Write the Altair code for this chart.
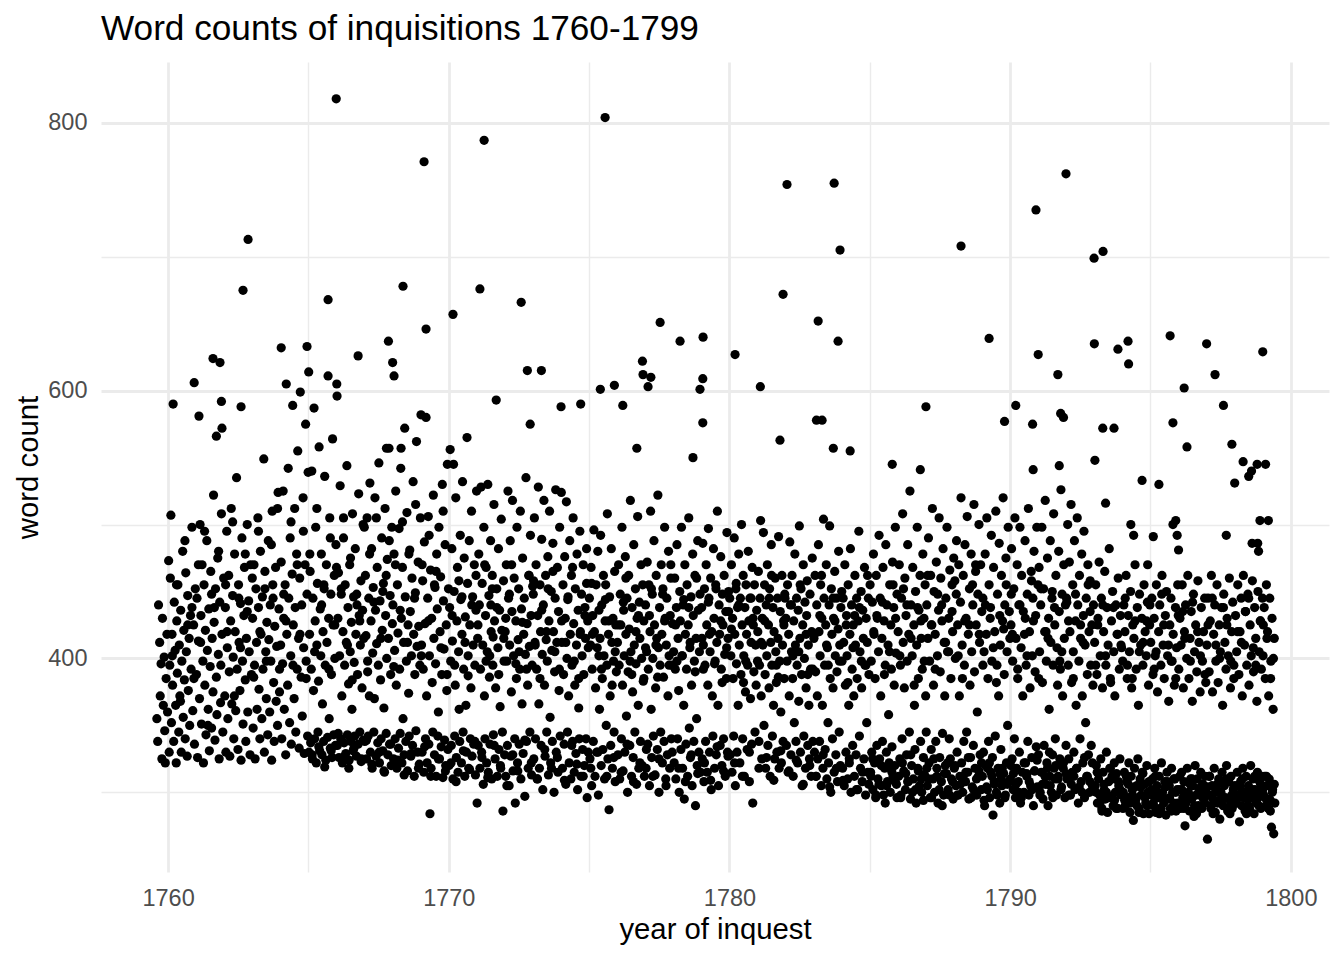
import altair as alt
import pandas as pd

TITLE = "Word counts of inquisitions 1760-1799"
X_TITLE = "year of inquest"
Y_TITLE = "word count"

x_ticks = [1760, 1765, 1770, 1775, 1780, 1785, 1790, 1795, 1800]
y_ticks = [300, 400, 500, 600, 700, 800]

# each year: (hundredths of the year, word count)
p1759 = [(60,355),(63,338),(66,440),(70,412),(72,372),(75,396),(78,325),(80,430),(83,365),(86,401),(88,346),(90,322),(93,385),(96,418),(98,360)]
p1760 = [(2,473),(4,330),(6,395),(8,460),(10,507),(12,352),(14,418),(16,380),(18,590),(20,338),(22,442),(25,406),(27,365),(29,322),(31,428),(33,389),(35,455),(38,345),(40,410),(42,372),(45,436),(47,330),(49,398),(52,480),(54,356),(56,421),(58,384),(61,340),(63,464),(65,405),(68,327),(70,447),(72,376),(75,415),(77,350),(80,432),(82,392),(85,498),(88,361),(91,425),(94,336),(97,452)]
p1761 = [(1,388),(3,445),(5,326),(8,413),(10,581),(12,370),(14,500),(17,432),(19,351),(21,470),(24,398),(26,322),(28,455),(31,380),(33,421),(35,343),(38,488),(40,406),(43,362),(45,437),(47,331),(50,394),(52,465),(55,348),(57,415),(60,375),(62,522),(64,427),(67,339),(69,452),(72,386),(74,358),(77,475),(79,403),(82,325),(84,442),(87,367),(90,508),(92,418),(95,345),(98,460)]
p1762 = [(2,372),(4,438),(6,330),(9,495),(11,408),(13,355),(16,462),(18,390),(20,327),(23,428),(25,512),(27,366),(30,447),(32,401),(34,340),(37,478),(39,420),(41,361),(44,535),(46,392),(49,332),(51,455),(53,412),(56,376),(58,441),(60,324),(63,490),(65,398),(67,351),(70,432),(72,468),(75,384),(77,338),(79,415),(82,500),(84,360),(87,443),(89,405),(92,328),(94,470),(97,388)]
p1763 = [(1,430),(3,348),(6,470),(8,395),(10,325),(13,452),(15,412),(17,362),(20,505),(22,438),(24,377),(27,340),(29,480),(31,418),(34,355),(36,446),(38,392),(41,549),(43,330),(45,465),(48,405),(50,370),(52,427),(55,343),(57,488),(59,414),(62,360),(64,440),(66,398),(69,324),(71,510),(73,455),(76,382),(78,338),(80,424),(83,468),(85,368),(87,409),(90,350),(92,524),(95,437),(97,392)]
p1764 = [(1,410),(3,472),(5,340),(8,396),(10,525),(12,430),(14,362),(17,455),(19,328),(21,605),(23,418),(26,380),(28,542),(30,445),(33,352),(35,490),(37,402),(39,336),(42,463),(44,589),(46,425),(49,370),(51,512),(53,438),(55,345),(58,478),(60,392),(62,555),(65,415),(67,333),(69,460),(71,599),(74,386),(76,440),(78,357),(81,520),(83,408),(85,329),(88,470),(90,575),(92,398),(95,448),(97,342),(99,539)]
p1765 = [(1,614),(2,330),(4,418),(6,465),(8,337),(10,392),(12,540),(14,325),(16,445),(18,376),(20,587),(22,340),(24,428),(26,498),(28,322),(30,410),(32,456),(34,345),(36,383),(38,558),(40,331),(42,437),(44,402),(46,478),(48,328),(50,366),(52,420),(54,338),(56,452),(58,536),(60,395),(62,324),(64,470),(66,412),(68,341),(70,611),(72,430),(74,355),(76,505),(78,333),(80,448),(82,388),(84,326),(86,564),(88,425),(90,343),(92,462),(94,400),(96,335),(98,485)]
p1766 = [(1,605),(2,596),(3,335),(5,430),(7,464),(9,326),(11,402),(13,529),(15,340),(17,448),(19,372),(21,322),(23,420),(25,490),(27,337),(29,395),(31,455),(33,329),(35,412),(37,544),(39,343),(41,438),(43,381),(45,324),(47,470),(49,405),(51,338),(53,427),(55,362),(57,508),(59,331),(61,446),(63,397),(65,342),(67,482),(69,418),(71,327),(73,440),(75,388),(77,336),(79,523),(81,432),(83,345),(85,410),(87,458),(89,325),(91,378),(93,436),(95,339),(97,415),(99,498)]
p1767 = [(1,338),(3,462),(5,417),(7,325),(9,505),(11,390),(13,342),(15,445),(17,372),(19,531),(21,330),(23,428),(25,482),(27,318),(29,404),(31,453),(33,345),(35,370),(37,520),(39,436),(41,327),(43,411),(45,468),(47,337),(49,395),(51,546),(53,322),(55,443),(57,384),(59,340),(61,490),(63,421),(65,331),(67,456),(69,363),(71,315),(73,512),(75,432),(77,344),(79,400),(81,474),(83,328),(85,415),(87,557),(89,336),(91,447),(93,388),(95,320),(97,498),(99,426)]
p1768 = [(1,440),(3,325),(5,478),(7,406),(9,340),(11,525),(13,380),(15,318),(17,455),(19,419),(21,333),(23,497),(25,392),(27,344),(29,542),(31,430),(33,322),(35,468),(37,355),(39,412),(41,328),(43,572),(45,446),(47,338),(49,398),(51,509),(53,316),(55,425),(57,374),(59,342),(61,481),(63,435),(65,327),(67,402),(69,460),(71,335),(73,532),(75,418),(77,312),(79,388),(81,449),(83,346),(85,562),(87,409),(89,330),(91,472),(93,424),(95,321),(97,395),(99,505)]
p1769 = [(1,582),(3,410),(5,330),(7,458),(9,392),(11,315),(13,487),(15,426),(17,340),(19,580),(21,372),(23,322),(25,445),(27,506),(29,336),(31,402),(33,284),(35,466),(37,318),(39,430),(41,382),(43,345),(45,522),(47,415),(49,328),(51,453),(53,396),(55,312),(57,478),(59,437),(61,342),(63,360),(65,498),(67,325),(69,420),(71,461),(73,334),(75,388),(77,530),(79,311),(81,443),(83,407),(85,339),(87,485),(89,320),(91,425),(93,376),(95,545),(97,332),(99,452)]
p1770 = [(1,320),(3,438),(5,556),(7,398),(9,335),(11,482),(13,413),(15,310),(17,545),(19,450),(21,342),(23,380),(25,520),(27,326),(29,428),(31,468),(33,315),(35,405),(37,362),(39,338),(41,492),(43,444),(45,322),(47,418),(49,532),(51,345),(53,392),(55,475),(57,312),(59,431),(61,365),(63,330),(65,565),(67,456),(69,402),(71,318),(73,488),(75,425),(77,340),(79,378),(81,510),(83,327),(85,446),(87,410),(89,336),(91,470),(93,395),(95,313),(97,436),(99,525)]
p1771 = [(1,292),(3,415),(5,335),(7,478),(9,440),(11,318),(13,392),(15,528),(17,330),(19,456),(21,410),(23,306),(25,498),(27,372),(29,340),(31,432),(33,468),(35,322),(37,405),(39,530),(41,315),(43,447),(45,386),(47,336),(49,488),(51,420),(53,310),(55,462),(57,395),(59,343),(61,515),(63,428),(65,325),(67,378),(69,593),(71,452),(73,312),(75,408),(77,482),(79,332),(81,436),(83,364),(85,318),(87,504),(89,421),(91,345),(93,286),(95,458),(97,398),(99,328),(50,440),(58,416)]
p1772 = [(1,420),(3,312),(5,470),(7,398),(9,335),(11,525),(13,445),(15,305),(17,410),(19,488),(21,327),(23,375),(25,435),(27,518),(29,316),(31,402),(33,460),(35,340),(37,292),(39,428),(41,385),(43,498),(45,322),(47,414),(49,452),(51,336),(53,392),(55,510),(57,310),(59,437),(61,366),(63,475),(65,329),(67,418),(69,445),(71,297),(73,403),(75,535),(77,338),(79,426),(81,380),(83,318),(85,462),(87,409),(89,345),(91,492),(93,432),(95,313),(97,395),(99,454)]
p1773 = [(1,448),(3,325),(5,505),(7,412),(9,340),(11,470),(13,392),(15,310),(17,432),(19,528),(21,366),(23,318),(25,455),(27,420),(29,335),(31,489),(33,403),(35,302),(37,440),(39,518),(41,380),(43,327),(45,462),(47,414),(49,345),(51,398),(53,476),(55,313),(57,428),(59,510),(61,356),(63,322),(65,450),(67,406),(69,338),(71,486),(73,420),(75,300),(77,390),(79,445),(81,526),(83,330),(85,412),(87,468),(89,315),(91,435),(93,376),(95,498),(97,342)]
p1774 = [(1,524),(3,412),(5,318),(7,455),(9,388),(11,336),(13,476),(15,430),(17,306),(19,517),(21,400),(23,345),(25,446),(27,372),(29,322),(31,488),(33,418),(35,310),(37,462),(39,395),(41,338),(43,505),(45,426),(47,315),(49,380),(51,452),(53,329),(55,410),(57,478),(59,302),(61,436),(63,363),(65,340),(67,495),(69,420),(71,312),(73,448),(75,402),(77,332),(79,470),(81,388),(83,320),(85,438),(87,415),(89,340),(91,482),(93,296),(95,428),(97,408)]
p1775 = [(1,445),(3,325),(5,410),(7,468),(9,305),(11,392),(13,432),(15,338),(17,496),(19,420),(21,312),(23,378),(25,455),(27,330),(29,408),(31,480),(33,298),(35,436),(37,362),(39,415),(41,492),(43,320),(45,440),(47,385),(49,332),(51,462),(53,402),(55,310),(57,428),(59,455),(61,350),(63,395),(65,508),(67,325),(69,418),(71,287),(73,446),(75,372),(77,335),(79,482),(81,412),(83,318),(85,430),(87,398),(89,345),(91,465),(93,308),(95,425),(97,390)]
p1776 = [(1,412),(3,328),(5,470),(7,395),(9,310),(11,448),(13,425),(15,340),(17,498),(19,380),(21,316),(23,436),(25,402),(27,330),(29,476),(31,418),(33,357),(35,445),(37,300),(39,390),(41,462),(43,422),(45,335),(47,518),(49,405),(51,312),(53,438),(55,375),(57,326),(59,485),(61,410),(63,345),(65,452),(67,396),(69,306),(71,430),(73,506),(75,365),(77,318),(79,442),(81,415),(83,338),(85,470),(87,400),(89,320),(91,455),(93,383),(95,428),(97,312)]
p1777 = [(1,440),(3,318),(5,405),(7,472),(9,336),(11,392),(13,455),(15,305),(17,420),(19,510),(21,362),(23,326),(25,448),(27,400),(29,342),(31,488),(33,425),(35,313),(37,378),(39,462),(41,415),(43,332),(45,522),(47,408),(49,300),(51,438),(53,395),(55,345),(57,470),(59,418),(61,322),(63,452),(65,386),(67,338),(69,498),(71,430),(73,310),(75,410),(77,445),(79,328),(81,372),(83,480),(85,402),(87,318),(89,432),(91,460),(93,340),(95,395),(97,426)]
p1778 = [(1,405),(3,322),(5,460),(7,392),(9,310),(11,438),(13,485),(15,340),(17,415),(19,376),(21,300),(23,450),(25,428),(27,332),(29,498),(31,402),(33,318),(35,440),(37,365),(39,295),(41,470),(43,418),(45,336),(47,392),(49,455),(51,312),(53,425),(55,505),(57,348),(59,408),(61,326),(63,446),(65,380),(67,305),(69,478),(71,432),(73,338),(75,398),(77,462),(79,290),(81,415),(83,355),(85,320),(87,488),(89,436),(91,330),(93,405),(95,448),(97,315)]
p1779 = [(1,438),(3,325),(5,486),(7,410),(9,308),(11,452),(13,395),(15,338),(17,470),(19,425),(21,315),(23,380),(25,497),(27,445),(29,330),(31,405),(33,460),(35,302),(37,420),(39,372),(41,342),(43,482),(45,430),(47,318),(49,398),(51,455),(53,328),(55,412),(57,510),(59,365),(61,305),(63,440),(65,418),(67,335),(69,476),(71,392),(73,320),(75,448),(77,425),(79,340),(81,462),(83,403),(85,312),(87,435),(89,385),(91,494),(93,330),(95,415),(97,450)]
p1780 = [(1,445),(3,328),(5,402),(7,470),(9,315),(11,430),(13,385),(15,342),(17,490),(19,418),(21,305),(23,452),(25,396),(27,330),(29,438),(31,365),(33,478),(35,410),(37,322),(39,445),(41,388),(43,500),(45,425),(47,340),(49,462),(51,402),(53,312),(55,438),(57,375),(59,455),(61,418),(63,332),(65,395),(67,480),(69,428),(71,308),(73,445),(75,370),(77,412),(79,336),(81,468),(83,292),(85,425),(87,390),(89,455),(91,345),(93,410),(95,380),(97,436)]
p1781 = [(1,420),(3,465),(5,338),(7,395),(9,445),(11,503),(13,372),(15,325),(17,430),(19,410),(21,494),(23,350),(25,455),(27,388),(29,318),(31,440),(33,402),(35,470),(37,335),(39,425),(41,378),(43,452),(45,312),(47,412),(49,485),(51,395),(53,342),(55,438),(57,365),(59,420),(61,325),(63,460),(65,405),(67,382),(69,330),(71,445),(73,415),(75,491),(77,318),(79,398),(81,435),(83,360),(85,322),(87,462),(89,410),(91,338),(93,428),(95,385),(97,448)]
p1782 = [(1,430),(3,335),(5,398),(7,455),(9,315),(11,418),(13,372),(15,487),(17,440),(19,328),(21,405),(23,462),(25,385),(27,312),(29,428),(31,352),(33,478),(35,410),(37,338),(39,445),(41,395),(43,322),(45,436),(47,368),(49,499),(51,415),(53,330),(55,452),(57,388),(59,305),(61,425),(63,470),(65,342),(67,400),(69,442),(71,318),(73,378),(75,432),(77,458),(79,335),(81,410),(83,365),(85,325),(87,448),(89,392),(91,312),(93,420),(95,475),(97,338)]
p1783 = [(1,415),(3,330),(5,462),(7,390),(9,312),(11,440),(13,372),(15,325),(17,485),(19,420),(21,338),(23,402),(25,455),(27,305),(29,430),(31,365),(33,318),(35,504),(37,445),(39,395),(41,332),(43,425),(45,470),(47,310),(49,408),(51,352),(53,322),(55,440),(57,499),(59,385),(61,300),(63,452),(65,418),(67,340),(69,378),(71,430),(73,315),(75,465),(77,402),(79,328),(81,445),(83,390),(85,308),(87,422),(89,480),(91,345),(93,410),(95,320),(97,438)]
p1784 = [(1,398),(3,318),(5,445),(7,412),(9,305),(11,470),(13,380),(15,330),(17,432),(19,402),(21,310),(23,455),(25,365),(27,322),(29,418),(31,482),(33,300),(35,440),(37,392),(39,335),(41,425),(43,372),(45,312),(47,462),(49,410),(51,328),(53,445),(55,385),(57,302),(59,428),(61,495),(63,342),(65,405),(67,318),(69,450),(71,378),(73,308),(75,436),(77,415),(79,325),(81,468),(83,395),(85,298),(87,430),(89,352),(91,412),(93,315),(95,445),(97,388)]
p1785 = [(1,455),(3,315),(5,398),(7,330),(9,442),(11,302),(13,478),(15,418),(17,322),(19,385),(21,296),(23,462),(25,335),(27,430),(29,310),(31,405),(33,492),(35,325),(37,445),(39,372),(41,305),(43,415),(45,338),(47,468),(49,298),(51,428),(53,318),(55,395),(57,485),(59,330),(61,440),(63,308),(65,410),(67,358),(69,322),(71,455),(73,300),(75,425),(77,392),(79,334),(81,472),(83,312),(85,438),(87,380),(89,320),(91,498),(93,404),(95,306),(97,448)]
p1786 = [(1,420),(3,312),(5,470),(7,325),(9,395),(11,298),(13,445),(15,340),(17,508),(19,412),(21,316),(23,378),(25,460),(27,302),(29,432),(31,328),(33,398),(35,485),(37,308),(39,418),(41,345),(43,525),(45,295),(47,440),(49,320),(51,402),(53,468),(55,310),(57,425),(59,365),(61,332),(63,450),(65,292),(67,410),(69,498),(71,318),(73,385),(75,436),(77,305),(79,462),(81,338),(83,415),(85,300),(87,392),(89,478),(91,326),(93,430),(95,313),(97,455),(99,372)]
p1787 = [(1,345),(3,440),(5,305),(7,415),(9,490),(11,322),(13,398),(15,296),(17,462),(19,332),(21,425),(23,512),(25,310),(27,380),(29,450),(31,300),(33,418),(35,338),(37,472),(39,318),(41,402),(43,292),(45,436),(47,505),(49,326),(51,390),(53,460),(55,308),(57,428),(59,344),(61,482),(63,298),(65,412),(67,372),(69,320),(71,445),(73,314),(75,498),(77,405),(79,302),(81,430),(83,340),(85,466),(87,325),(89,385),(91,310),(93,455),(95,420),(97,295),(99,475)]
p1788 = [(1,318),(3,458),(5,400),(7,305),(9,488),(11,330),(13,425),(15,298),(17,470),(19,372),(21,312),(23,442),(25,520),(27,322),(29,410),(31,300),(33,462),(35,338),(37,395),(39,485),(41,308),(43,430),(45,345),(47,506),(49,315),(51,418),(53,295),(55,452),(57,380),(59,326),(61,478),(63,405),(65,304),(67,440),(69,335),(71,515),(73,390),(75,318),(77,465),(79,425),(81,298),(83,360),(85,448),(87,312),(89,500),(91,412),(93,328),(95,470),(97,302),(99,435)]
p1789 = [(1,312),(3,445),(5,330),(7,405),(9,290),(11,478),(13,320),(15,418),(17,505),(19,302),(21,385),(23,338),(25,455),(27,296),(29,430),(31,315),(33,492),(35,398),(37,326),(39,283),(41,468),(43,308),(45,420),(47,342),(49,510),(51,300),(53,395),(55,448),(57,318),(59,372),(61,486),(63,292),(65,410),(67,332),(69,462),(71,305),(73,428),(75,520),(77,314),(79,388),(81,440),(83,298),(85,475),(87,322),(89,405),(91,350),(93,498),(95,308),(97,435),(99,415),(20,318),(68,310)]
p1790 = [(1,310),(3,425),(5,482),(7,325),(9,398),(11,302),(13,452),(15,340),(17,505),(19,296),(21,415),(23,318),(25,470),(27,385),(29,308),(31,440),(33,330),(35,498),(37,292),(39,408),(41,462),(43,315),(45,372),(47,435),(49,300),(51,418),(53,488),(55,322),(57,395),(59,312),(61,448),(63,338),(65,512),(67,298),(69,420),(71,378),(73,305),(75,465),(77,326),(79,402),(81,445),(83,290),(85,480),(87,316),(89,390),(91,432),(93,334),(95,498),(97,304),(99,455)]
p1791 = [(1,328),(3,468),(5,405),(7,300),(9,440),(11,315),(13,498),(15,382),(17,295),(19,452),(21,335),(23,420),(25,518),(27,306),(29,398),(31,322),(33,475),(35,290),(37,430),(39,362),(41,312),(43,488),(45,412),(47,300),(49,445),(51,328),(53,395),(55,508),(57,318),(59,425),(61,340),(63,462),(65,298),(67,408),(69,380),(71,312),(73,480),(75,435),(77,325),(79,392),(81,526),(83,304),(85,448),(87,372),(89,318),(91,470),(93,415),(95,296),(97,440),(99,335),(40,330),(60,310)]
p1792 = [(1,445),(3,310),(5,500),(7,395),(9,325),(11,472),(13,420),(15,298),(17,515),(19,382),(21,315),(23,455),(25,405),(27,330),(29,488),(31,302),(33,428),(35,365),(37,318),(39,505),(41,440),(43,292),(45,398),(47,462),(49,340),(51,415),(53,308),(55,478),(57,372),(59,322),(61,432),(63,495),(65,296),(67,410),(69,352),(71,445),(73,312),(75,388),(77,470),(79,328),(81,420),(83,300),(85,458),(87,395),(89,335),(91,425),(93,305),(95,380),(97,440)]
p1793 = [(1,412),(3,305),(5,455),(7,320),(9,388),(11,292),(13,430),(15,310),(17,472),(19,298),(21,402),(23,325),(25,445),(27,288),(29,378),(31,315),(33,420),(35,302),(37,465),(39,295),(41,395),(43,330),(45,438),(47,285),(49,410),(51,308),(53,482),(55,318),(57,385),(59,296),(61,428),(63,312),(65,450),(67,290),(69,405),(71,322),(73,372),(75,300),(77,440),(79,314),(81,418),(83,288),(85,460),(87,305),(89,392),(91,325),(93,432),(95,298),(97,408)]
p1794 = [(1,398),(3,300),(5,440),(7,315),(9,420),(11,290),(13,462),(15,308),(17,385),(19,296),(21,432),(23,322),(25,405),(27,285),(29,450),(31,312),(33,378),(35,302),(37,425),(39,279),(41,415),(43,318),(45,470),(47,294),(49,392),(51,305),(53,438),(55,325),(57,365),(59,288),(61,448),(63,310),(65,410),(67,298),(69,430),(71,315),(73,395),(75,284),(77,455),(79,306),(81,420),(83,292),(85,402),(87,320),(89,442),(91,300),(93,380),(95,284),(97,425)]
p1795 = [(1,412),(3,298),(5,445),(7,310),(9,388),(11,290),(13,430),(15,318),(17,402),(19,285),(21,455),(23,305),(25,375),(27,296),(29,420),(31,312),(33,440),(35,288),(37,395),(39,322),(41,462),(43,300),(45,410),(47,292),(49,385),(51,308),(53,432),(55,283),(57,450),(59,315),(61,402),(63,295),(65,368),(67,305),(69,425),(71,288),(73,445),(75,318),(77,398),(79,300),(81,418),(83,292),(85,380),(87,310),(89,438),(91,286),(93,408),(95,302),(97,455)]
p1796 = [(1,392),(3,302),(5,430),(7,288),(9,410),(11,315),(13,455),(15,296),(17,378),(19,308),(21,420),(23,275),(25,440),(27,292),(29,400),(31,318),(33,462),(35,300),(37,385),(39,286),(41,415),(43,310),(45,435),(47,295),(49,368),(51,305),(53,448),(55,282),(57,405),(59,320),(61,425),(63,298),(65,390),(67,310),(69,458),(71,290),(73,412),(75,302),(77,375),(79,315),(81,438),(83,288),(85,398),(87,306),(89,420),(91,295),(93,445),(95,312),(97,382),(99,300)]
p1797 = [(1,410),(3,265),(5,445),(7,298),(9,390),(11,312),(13,428),(15,288),(17,462),(19,305),(21,375),(23,295),(25,418),(27,318),(29,440),(31,285),(33,398),(35,302),(37,455),(39,292),(41,382),(43,310),(45,425),(47,280),(49,405),(51,300),(53,438),(55,315),(57,365),(59,290),(61,448),(63,305),(65,412),(67,296),(69,392),(71,320),(73,430),(75,286),(77,402),(79,308),(81,460),(83,294),(85,378),(87,312),(89,420),(91,288),(93,442),(95,302),(97,395),(99,298)]
p1798 = [(1,305),(3,432),(5,292),(7,405),(9,315),(11,455),(13,298),(15,388),(17,278),(19,420),(21,308),(23,445),(25,290),(27,372),(29,318),(31,462),(33,300),(35,410),(37,286),(39,435),(41,312),(43,395),(45,295),(47,448),(49,305),(51,380),(53,288),(55,425),(57,320),(59,402),(61,296),(63,458),(65,310),(67,390),(69,284),(71,438),(73,302),(75,415),(77,292),(79,368),(81,315),(83,450),(85,298),(87,405),(89,308),(91,428),(93,288),(95,392),(97,312),(99,445)]
p1799 = [(1,402),(3,298),(5,438),(7,312),(9,385),(11,290),(13,455),(15,305),(17,420),(19,295),(21,372),(23,310),(25,445),(27,286),(29,398),(31,274),(33,430),(35,302),(37,362),(39,269),(41,415),(43,292)]

# isolated long inquisitions: (year, word count)
outliers = [(1760.93,606),(1761.60,624),(1761.85,621),(1761.90,592),(1761.72,566),(1761.92,572),
            (1762.60,588),(1762.67,675),(1762.85,713),(1764.03,632),(1764.95,633),(1765.70,668),
            (1765.99,818),(1766.77,626),(1767.85,637),(1768.00,621),(1768.05,611),(1768.37,678),
            (1767.78,557),(1768.30,557),(1769.12,771),(1769.19,646),(1770.15,657),(1771.11,676),
            (1771.26,787),(1772.58,666),(1772.80,615),(1772.90,575),(1773.30,615),(1774.00,588),
            (1774.70,590),(1775.40,601),(1775.57,804),(1775.90,604),(1776.20,589),(1776.70,557),
            (1776.90,622),(1776.92,612),(1777.20,610),(1777.10,603),(1777.53,651),(1778.24,637),
            (1778.70,550),(1779.06,640),(1779.05,609),(1778.95,601),(1779.05,576),(1780.20,627),
            (1781.10,603),(1781.80,563),(1781.91,672),(1782.05,754),(1783.16,652),(1783.10,578),
            (1783.30,578),(1783.70,557),(1783.73,755),(1783.87,637),(1783.94,705),(1784.30,555),
            (1785.80,545),(1786.80,541),(1787.00,588),(1788.25,708),(1789.25,639),(1789.80,577),
            (1790.20,589),(1790.80,575),(1790.92,735),(1791.00,627),(1790.82,541),(1791.70,612),
            (1791.80,583),(1791.90,580),(1791.99,762),(1791.75,544),(1792.99,699),(1793.31,704),
            (1793.00,635),(1793.02,548),(1793.30,572),(1793.70,572),(1793.84,631),(1794.20,637),
            (1794.22,620),(1794.70,533),(1795.30,530),(1795.70,641),(1795.80,576),(1796.20,602),
            (1796.30,558),(1797.00,635),(1797.30,612),(1797.60,589),(1797.90,560),(1798.00,531),
            (1798.30,547),(1798.60,540),(1798.80,545),(1798.50,536),(1799.00,629),(1799.10,545),
            (1799.20,503),(1793.40,516),(1794.30,500),(1794.40,492),(1795.10,491),(1795.80,500),
            (1795.90,503),(1795.95,492),(1796.00,481),(1797.70,492),(1798.62,486),(1798.82,486),
            (1798.90,503),(1798.85,480),(1794.90,470)]

# denser clusters: (year, word count)
extra_1760s = [(1760.15,402),(1760.44,368),(1760.70,425),(1760.92,385),(1761.16,412),(1761.42,350),(1761.65,438),
               (1761.88,395),(1762.10,420),(1762.36,372),(1762.58,408),(1762.82,435),(1763.05,386),(1763.27,420),
               (1763.50,398),(1763.74,445),(1763.97,375),(1764.20,428),(1764.45,395),(1764.70,418),(1764.92,385),
               (1765.13,328),(1765.37,334),(1765.58,319),(1765.81,331),(1766.06,344),(1766.29,327),(1766.44,318),
               (1766.62,333),(1766.88,323),(1767.07,339),(1767.26,321),(1767.52,330),(1767.69,316),(1767.93,336),
               (1768.18,324),(1768.41,313),(1768.66,329),(1768.92,318),(1769.14,334),(1769.36,312),(1769.63,325),
               (1769.88,316),(1765.22,405),(1765.47,440),(1765.73,392),(1765.94,425),(1766.17,452),(1766.39,410),
               (1766.56,384),(1766.83,428),(1767.11,398),(1767.33,442),(1767.58,415),(1767.77,462),(1768.04,394),
               (1768.27,436),(1768.53,412),(1768.78,445),(1769.02,402),(1769.27,428),(1769.49,455),(1769.72,408),
               (1769.94,388),(1760.30,455),(1760.60,488),(1760.85,438),(1761.08,470),(1761.30,495),(1761.55,448),
               (1761.80,480),(1762.05,455),(1762.30,502),(1762.52,445),(1762.75,478),(1763.00,460),(1763.22,495),
               (1763.45,452),(1763.68,485),(1763.90,512),(1764.12,448),(1764.38,502),(1764.60,470),(1764.82,495),
               (1765.05,478),(1765.30,512),(1765.55,455),(1765.78,490),(1766.00,468),(1766.25,505),(1766.50,475),
               (1766.72,448),(1766.95,500),(1767.18,478),(1767.42,505),(1767.65,450),(1767.88,488),(1768.10,470),
               (1768.35,502),(1768.58,478),(1768.82,515),(1769.05,470),(1769.30,492),(1769.55,465),(1769.80,510)]
extra_1770s = [(1770.08,322),(1770.26,308),(1770.52,331),(1770.74,317),(1770.93,338),(1771.18,326),(1771.39,311),
               (1771.62,335),(1771.84,320),(1772.07,305),(1772.28,328),(1772.46,316),(1772.71,339),(1772.94,322),
               (1773.16,310),(1773.42,332),(1773.66,318),(1773.87,326),(1774.12,309),(1774.38,335),(1774.56,321),
               (1774.79,312),(1774.97,330),(1770.12,432),(1770.36,458),(1770.58,412),(1770.82,440),(1771.04,425),
               (1771.28,470),(1771.46,402),(1771.71,438),(1771.96,415),(1772.16,448),(1772.39,396),(1772.62,427),
               (1772.86,462),(1773.08,410),(1773.31,436),(1773.54,452),(1773.78,405),(1774.02,428),(1774.24,444),
               (1774.47,398),(1774.68,418),(1774.91,456),(1775.06,318),(1775.31,330),(1775.63,312),(1775.88,326),
               (1776.14,315),(1776.35,336),(1776.58,308),(1776.81,322),(1777.04,332),(1777.27,312),(1777.49,325),
               (1777.74,305),(1777.96,330),(1778.19,318),(1778.43,308),(1778.64,328),(1778.87,314),(1779.11,322),
               (1779.33,309),(1779.56,334),(1779.79,316),(1779.95,327),(1775.12,418),(1775.44,392),(1775.70,428),
               (1775.93,405),(1776.22,442),(1776.46,398),(1776.67,420),(1776.95,385),(1777.15,432),(1777.38,410),
               (1777.62,448),(1777.85,395),(1778.08,425),(1778.32,402),(1778.55,438),(1778.78,390),(1779.02,415),
               (1779.25,442),(1779.47,396),(1779.69,428),(1779.90,408),
               (1770.21,395),(1770.47,446),(1770.69,387),(1770.97,462),(1771.33,398),(1771.55,452),(1771.78,388),
               (1772.03,430),(1772.24,470),(1772.51,405),(1772.77,392),(1773.02,458),(1773.25,385),(1773.48,420),
               (1773.71,465),(1773.94,392),(1774.17,412),(1774.41,468),(1774.63,385),(1774.85,432),(1775.09,456),
               (1775.35,402),(1775.58,444),(1775.82,380),(1776.05,425),(1776.31,460),(1776.52,388),(1776.76,432),
               (1777.01,408),(1777.22,452),(1777.44,386),(1777.69,428),(1777.91,470),(1778.13,398),(1778.37,444),
               (1778.60,412),(1778.83,460),(1779.07,392),(1779.29,418),(1779.52,452),(1779.74,382),(1779.97,435)]
extra_1780s = [(1780.18,322),(1780.46,312),(1780.71,330),(1781.05,318),(1781.32,326),(1781.58,309),(1781.83,331),
               (1782.12,316),(1782.38,324),(1782.63,306),(1782.86,320),(1783.08,312),(1783.34,328),(1783.57,304),
               (1783.81,318),(1784.05,309),(1784.27,325),(1784.52,302),(1784.74,315),(1784.96,306),(1780.07,422),
               (1780.33,440),(1780.58,398),(1780.84,430),(1781.13,412),(1781.42,445),(1781.67,395),(1781.94,425),
               (1782.21,440),(1782.47,405),(1782.73,418),(1782.97,392),(1783.22,432),(1783.46,410),(1783.69,445),
               (1783.92,398),(1784.16,425),(1784.40,408),(1784.63,438),(1784.86,395),(1785.04,312),(1785.22,298),
               (1785.41,320),(1785.60,305),(1785.79,315),(1785.97,296),(1786.16,322),(1786.35,308),(1786.52,300),
               (1786.73,316),(1786.91,294),(1787.10,310),(1787.28,325),(1787.47,302),(1787.66,314),(1787.84,298),
               (1788.04,320),(1788.23,306),(1788.42,315),(1788.61,296),(1788.80,310),(1788.98,322),(1789.16,304),
               (1789.35,312),(1789.54,298),(1789.72,318),(1789.90,306),(1785.14,420),(1785.45,442),(1785.70,405),
               (1785.92,430),(1786.20,452),(1786.47,415),(1786.70,438),(1786.94,398),(1787.19,425),(1787.42,448),
               (1787.70,412),(1787.93,435),(1788.15,402),(1788.38,428),(1788.66,455),(1788.90,418),(1789.12,440),
               (1789.40,408),(1789.63,432),(1789.86,455),
               (1780.24,456),(1780.50,382),(1780.77,445),(1781.00,398),(1781.26,428),(1781.50,462),(1781.74,386),
               (1781.98,445),(1782.26,402),(1782.52,455),(1782.79,388),(1783.03,418),(1783.28,462),(1783.52,395),
               (1783.76,428),(1784.00,450),(1784.22,382),(1784.46,432),(1784.70,398),(1784.92,462),
               (1785.10,325),(1785.33,306),(1785.55,292),(1785.74,318),(1785.90,308),(1786.10,296),(1786.28,314),
               (1786.46,328),(1786.63,302),(1786.83,310),(1787.03,318),(1787.20,296),(1787.39,312),(1787.58,290),
               (1787.77,322),(1787.95,308),(1788.12,298),(1788.32,312),(1788.51,326),(1788.70,302),(1788.89,316),
               (1789.07,294),(1789.26,322),(1789.44,306),(1789.63,314),(1789.81,296),
               (1785.25,432),(1785.52,388),(1785.83,455),(1786.07,402),(1786.32,440),(1786.58,380),(1786.82,428),
               (1787.06,462),(1787.33,392),(1787.56,440),(1787.81,405),(1788.08,448),(1788.30,385),(1788.55,425),
               (1788.77,470),(1789.03,395),(1789.30,438),(1789.51,382),(1789.77,422)]
extra_1790s = [(1790.12,314),(1790.31,300),(1790.50,322),(1790.68,308),(1790.87,316),(1791.06,298),(1791.24,312),
               (1791.43,305),(1791.62,320),(1791.81,302),(1791.99,314),(1792.18,306),(1792.37,318),(1792.56,300),
               (1792.75,312),(1792.93,322),(1790.08,418),(1790.35,440),(1790.60,402),(1790.83,428),(1791.10,452),
               (1791.35,415),(1791.58,438),(1791.84,405),(1792.08,428),(1792.33,448),(1792.60,412),(1792.85,435),
               (1793.06,300),(1793.20,292),(1793.34,306),(1793.50,296),(1793.63,310),(1793.78,288),(1793.92,302),
               (1794.08,294),(1794.21,306),(1794.36,298),(1794.52,290),(1794.66,304),(1794.80,296),(1794.95,308),
               (1795.10,292),(1795.24,300),(1795.38,288),(1795.53,304),(1795.68,296),(1795.83,310),(1795.97,292),
               (1796.12,302),(1796.26,294),(1796.41,306),(1796.57,290),(1796.72,300),(1796.86,296),(1797.02,304),
               (1797.16,290),(1797.31,300),(1797.46,294),(1797.62,306),(1797.76,288),(1797.90,298),(1798.05,292),
               (1798.20,304),(1798.34,296),(1798.50,290),(1798.64,302),(1798.78,294),(1798.93,306),(1799.07,296),
               (1799.20,288),(1799.34,300),(1793.12,425),(1793.40,402),(1793.68,438),(1793.95,410),(1794.18,395),
               (1794.45,428),(1794.74,412),(1794.98,440),(1795.20,405),(1795.47,425),(1795.74,398),(1795.99,432),
               (1796.22,415),(1796.50,442),(1796.78,402),(1797.05,425),(1797.33,410),(1797.60,438),(1797.86,398),
               (1798.10,420),(1798.38,435),(1798.66,408),(1798.92,428),(1799.15,415),(1799.38,400),
               (1790.02,320),(1790.21,306),(1790.40,296),(1790.59,314),(1790.78,302),(1790.96,324),(1791.15,306),
               (1791.33,318),(1791.52,296),(1791.71,310),(1791.90,322),(1792.09,298),(1792.27,312),(1792.46,304),
               (1792.65,326),(1792.84,308),(1793.10,315),(1793.27,286),(1793.43,300),(1793.57,318),(1793.72,294),
               (1793.86,308),(1794.02,288),(1794.14,312),(1794.29,292),(1794.44,304),(1794.59,285),(1794.73,314),
               (1794.88,290),(1795.03,302),(1795.17,312),(1795.31,284),(1795.46,296),(1795.60,308),(1795.75,286),
               (1795.90,300),(1796.04,312),(1796.19,288),(1796.33,298),(1796.48,310),(1796.64,284),(1796.79,304),
               (1796.93,292),(1797.09,312),(1797.23,284),(1797.38,306),(1797.53,296),(1797.69,310),(1797.83,284),
               (1797.97,304),(1798.12,296),(1798.27,310),(1798.42,284),(1798.57,300),(1798.71,312),(1798.86,290),
               (1799.00,302),(1799.13,312),(1799.27,294),(1799.41,306),
               (1790.04,448),(1790.27,392),(1790.54,430),(1790.76,458),(1791.02,385),(1791.28,420),(1791.50,450),
               (1791.77,398),(1792.02,442),(1792.25,385),(1792.51,425),(1792.78,455),(1793.05,395),(1793.30,440),
               (1793.58,382),(1793.83,418),(1794.10,445),(1794.35,385),(1794.60,405),(1794.86,428),(1795.13,392),
               (1795.40,448),(1795.64,410),(1795.90,385),(1796.15,435),(1796.42,398),(1796.68,420),(1796.94,388),
               (1797.20,445),(1797.46,400),(1797.72,425),(1797.97,385),(1798.24,412),(1798.50,445),(1798.75,395),
               (1799.02,425),(1799.28,385)]

yearly = [(1759, p1759), (1760, p1760), (1761, p1761), (1762, p1762), (1763, p1763),
          (1764, p1764), (1765, p1765), (1766, p1766), (1767, p1767), (1768, p1768),
          (1769, p1769), (1770, p1770), (1771, p1771), (1772, p1772), (1773, p1773),
          (1774, p1774), (1775, p1775), (1776, p1776), (1777, p1777), (1778, p1778),
          (1779, p1779), (1780, p1780), (1781, p1781), (1782, p1782), (1783, p1783),
          (1784, p1784), (1785, p1785), (1786, p1786), (1787, p1787), (1788, p1788),
          (1789, p1789), (1790, p1790), (1791, p1791), (1792, p1792), (1793, p1793),
          (1794, p1794), (1795, p1795), (1796, p1796), (1797, p1797), (1798, p1798),
          (1799, p1799)]

rows = []
for yr, pts in yearly:
    for f, w in pts:
        rows.append({"year": yr + f / 100.0, "words": w})
for lst in (outliers, extra_1760s, extra_1770s, extra_1780s, extra_1790s):
    for yv, w in lst:
        rows.append({"year": yv, "words": w})
df = pd.DataFrame(rows)

FONT = "Liberation Sans"
GRID = "#EBEBEB"

x_axis = alt.Axis(
    values=x_ticks,
    labelExpr="datum.value % 10 === 0 ? datum.label : ''",
    format="d",
    domain=False, ticks=False,
    grid=True, gridColor=GRID,
    gridWidth={"condition": {"test": "datum.value % 10 === 0", "value": 2.8}, "value": 1.4},
    labelFont=FONT, labelFontSize=23.5, labelColor="#4D4D4D", labelPadding=14,
    title=X_TITLE, titleFont=FONT, titleFontSize=29.3, titleFontWeight="normal",
    titleColor="black", titlePadding=6,
)
y_axis = alt.Axis(
    values=y_ticks,
    labelExpr="datum.value % 200 === 0 ? datum.label : ''",
    domain=False, ticks=False,
    grid=True, gridColor=GRID,
    gridWidth={"condition": {"test": "datum.value % 200 === 0", "value": 2.8}, "value": 1.4},
    labelFont=FONT, labelFontSize=23.5, labelColor="#4D4D4D", labelPadding=14,
    title=Y_TITLE, titleFont=FONT, titleFontSize=29.3, titleFontWeight="normal",
    titleColor="black", titlePadding=4,
)

chart = alt.Chart(df).mark_circle(size=85, color="black", opacity=1).encode(
    x=alt.X("year:Q", scale=alt.Scale(domain=[1757.61, 1801.36], nice=False, zero=False), axis=x_axis),
    y=alt.Y("words:Q", scale=alt.Scale(domain=[240.5, 845.5], nice=False, zero=False), axis=y_axis),
).properties(
    width=1228,
    height=810,
    title=alt.TitleParams(TITLE, anchor="start", frame="group", font=FONT, fontSize=35.2,
                          fontWeight="normal", color="black", offset=15),
    autosize=alt.AutoSizeParams(type="none"),
    padding={"left": 93, "top": 54, "right": 5, "bottom": 80},
    background="white",
).configure_view(stroke=None)

chart.save("out.html", embed_options={"renderer": "svg", "actions": False})
